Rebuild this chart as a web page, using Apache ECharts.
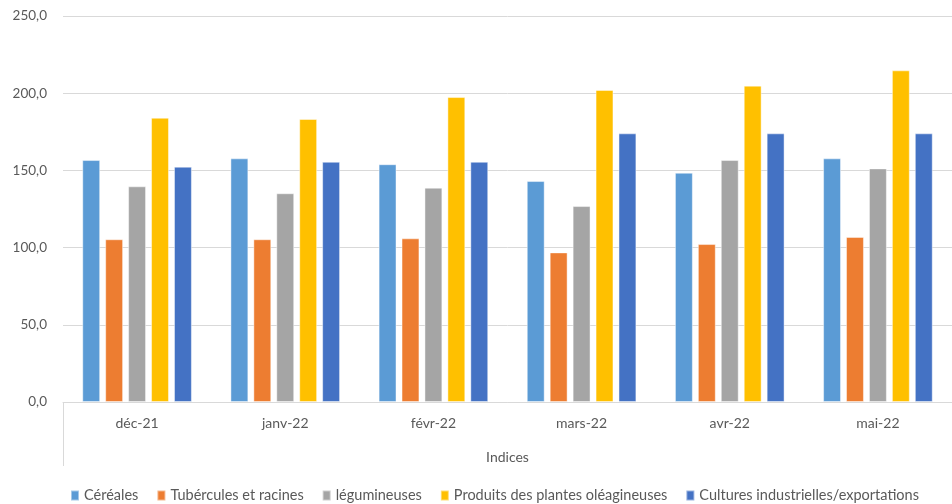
<!DOCTYPE html>
<html><head><meta charset="utf-8">
<script src="https://cdn.jsdelivr.net/npm/echarts@6/dist/echarts.min.js"></script>
<style>html,body{margin:0;padding:0;background:#fff}#c{width:952px;height:504px}</style>
</head><body><div id="c"></div>
<script>
const categories = ["déc-21","janv-22","févr-22","mars-22","avr-22","mai-22"];
const seriesNames = ["Céréales","Tubércules et racines","légumineuses","Produits des plantes oléagineuses","Cultures industrielles/exportations"];
const cereales = [156.7,157.8,154.0,143.1,148.5,157.8];
const tubercules = [105.4,105.4,106.0,96.9,102.3,106.9];
const legumineuses = [139.7,135.2,138.8,126.9,156.7,151.3];
const oleagineuses = [184.1,183.3,197.5,202.1,204.9,214.8];
const cultures = [152.4,155.6,155.6,174.0,174.0,174.0];
const yTicks = [0,50,100,150,200,250];
const colors = ["#5B9BD5","#ED7D31","#A5A5A5","#FFC000","#4472C4"];
const values = [cereales,tubercules,legumineuses,oleagineuses,cultures];
const font = "Lato, 'Open Sans', sans-serif";
const chart = echarts.init(document.getElementById('c'));
chart.setOption({
  animation:false,
  color:colors,
  textStyle:{fontFamily:font},
  grid:{left:63,right:0,top:16,bottom:102},
  legend:{left:65,top:483,itemWidth:8,itemHeight:10,itemGap:18,icon:'rect',
    textStyle:{fontSize:14.5,color:'#595959',fontFamily:font},data:seriesNames},
  xAxis:{type:'category',data:categories,
    name:'Indices',nameLocation:'middle',nameGap:48,
    nameTextStyle:{fontSize:14,color:'#595959',fontFamily:font},
    axisLine:{lineStyle:{color:'#d9d9d9'}},
    axisTick:{show:true,length:64,interval:function(i){return i===0;},lineStyle:{color:'#d9d9d9'}},
    axisLabel:{fontSize:14,color:'#595959',margin:14,fontFamily:font}},
  yAxis:{type:'value',min:yTicks[0],max:yTicks[yTicks.length-1],interval:50,
    axisLine:{show:false},axisTick:{show:false},
    splitLine:{lineStyle:{color:'#d9d9d9'}},
    axisLabel:{fontSize:13.5,color:'#595959',margin:16,fontFamily:font,
      formatter:function(v){return v.toFixed(1).replace('.',',');}}},
  series: seriesNames.map(function(n,i){return {name:n,type:'bar',data:values[i],
    barGap:'28%',barCategoryGap:'26%',
    itemStyle:{color:colors[i],borderColor:'rgba(255,255,255,0.45)',borderWidth:1}};})
});
</script></body></html>
